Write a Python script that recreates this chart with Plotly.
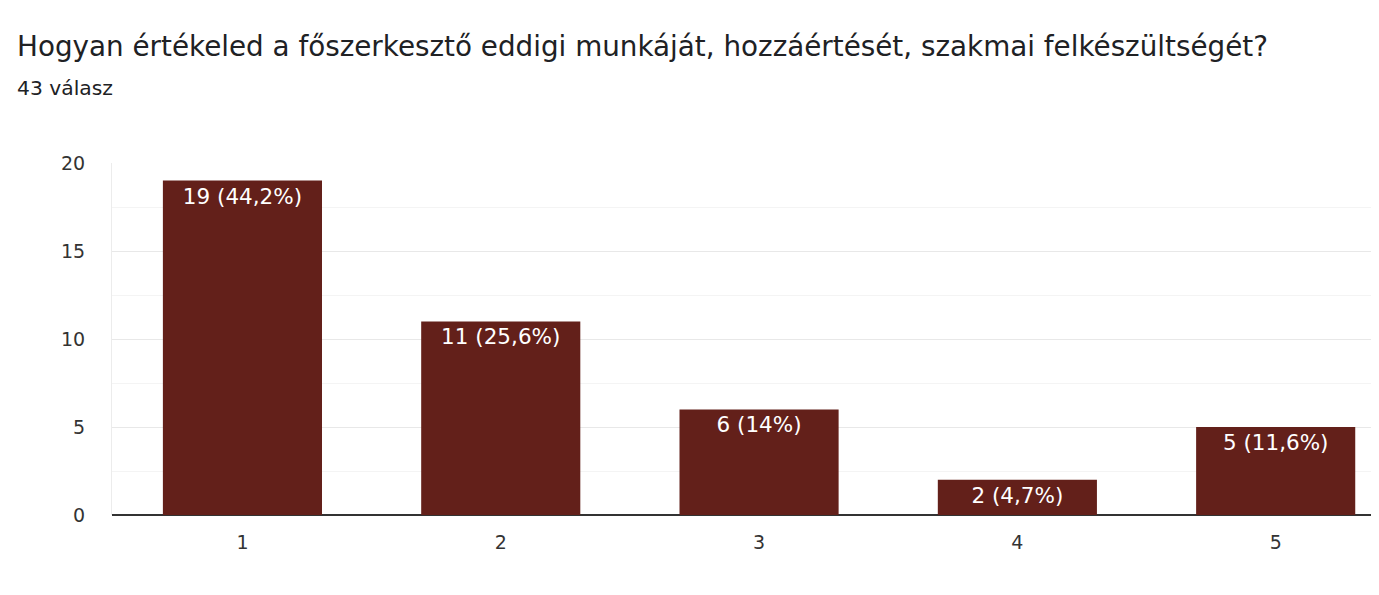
import plotly.graph_objects as go

categories = [1, 2, 3, 4, 5]
counts = [19, 11, 6, 2, 5]
percent_labels = ["44,2%", "25,6%", "14%", "4,7%", "11,6%"]
y_ticks = [0, 5, 10, 15, 20]
title_text = "Hogyan értékeled a főszerkesztő eddigi munkáját, hozzáértését, szakmai felkészültségét?"
subtitle_text = "43 válasz"

labels = [f"{c} ({p})" for c, p in zip(counts, percent_labels)]

OFF = 8  # page body margin
W, H = 1379 - OFF, 595 - OFF
L, T = 112 - OFF, 163 - OFF
PH = 515 - 163
B = H - T - PH
PW = W - L

FONT = "DejaVu Sans"

fig = go.Figure(go.Bar(
    x=categories, y=counts, text=labels,
    textposition="inside", insidetextanchor="end",
    textfont=dict(family=FONT, size=21.5, color="white"),
    marker=dict(color="#63201a", line=dict(width=0)),
    hoverinfo="skip",
))

def px2paper(px, py):
    return (px - OFF - L) / PW, (H - B - (py - OFF)) / PH

tx, ty = px2paper(15, 46)
sx, sy = px2paper(15, 88)

fig.update_layout(
    width=W, height=H,
    paper_bgcolor="white", plot_bgcolor="white",
    margin=dict(l=L, r=0, t=T, b=B),
    bargap=0.384,
    showlegend=False,
    annotations=[
        dict(text=title_text, x=tx, y=ty, xref="paper", yref="paper", showarrow=False,
             xanchor="left", yanchor="middle",
             font=dict(family=FONT, size=27.8, color="#202124")),
        dict(text=subtitle_text, x=sx, y=sy, xref="paper", yref="paper", showarrow=False,
             xanchor="left", yanchor="middle",
             font=dict(family=FONT, size=20.3, color="#202124")),
    ],
)

fig.update_xaxes(
    range=[0.495, 5.40], tickvals=categories, ticktext=[str(c) for c in categories],
    showgrid=False, zeroline=False, showline=False, ticks="",
    tickfont=dict(family=FONT, size=19, color="#333333"),
    ticklabelstandoff=14,
)
fig.update_yaxes(
    range=[0, 20], tickvals=y_ticks,
    showgrid=True, gridcolor="#e8e8e8", gridwidth=1,
    zeroline=True, zerolinecolor="#333333", zerolinewidth=2,
    showline=True, linecolor="#ececec", linewidth=1,
    tickfont=dict(family=FONT, size=19, color="#333333"),
    ticks="", ticklabelstandoff=22,
    minor=dict(dtick=2.5, tick0=0, showgrid=True, gridcolor="#f4f4f4", gridwidth=1),
)

fig.write_html("out.html")
